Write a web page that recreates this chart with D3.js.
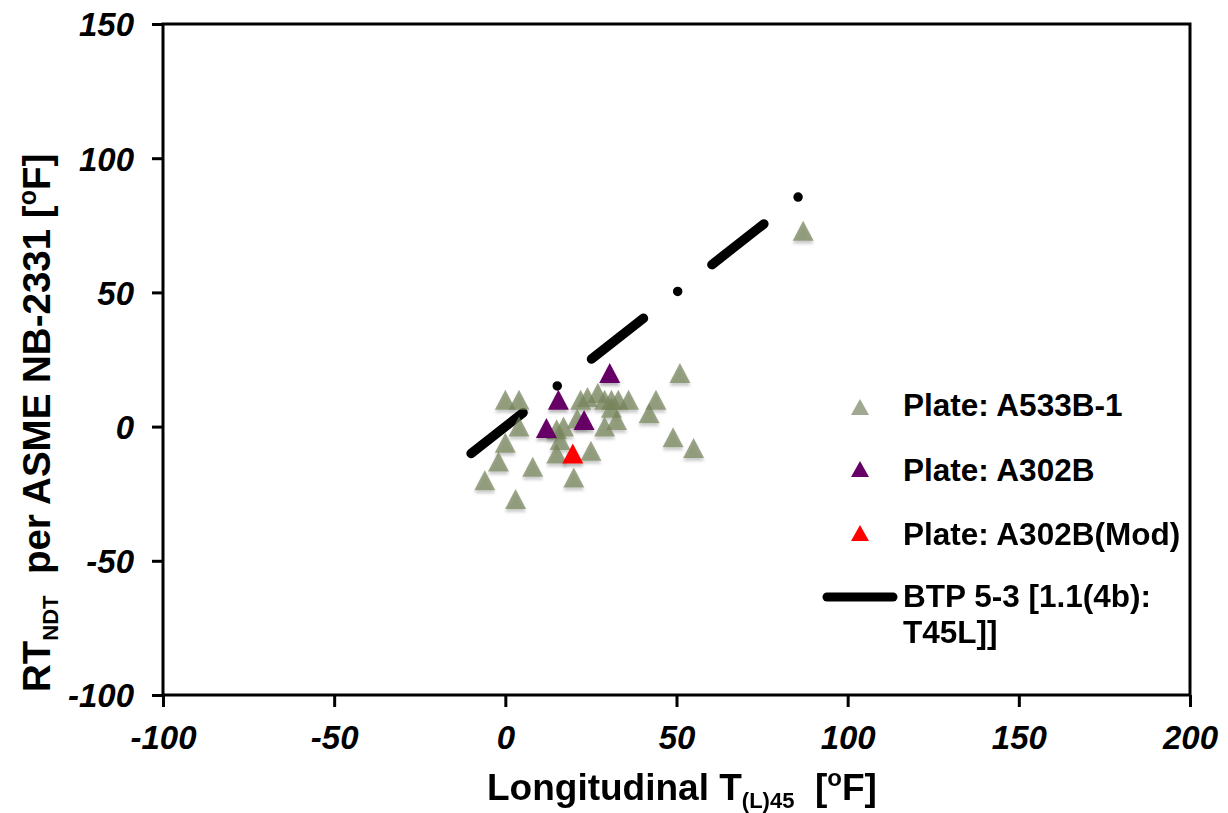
<!DOCTYPE html>
<html>
<head>
<meta charset="utf-8">
<script src="https://cdn.jsdelivr.net/npm/d3@7"></script>
<style>
  html, body { margin: 0; padding: 0; background: #fff; }
  svg { display: block; font-family: "Liberation Sans", Arial, sans-serif; }
  .title { white-space: pre; }
</style>
</head>
<body>
<svg id="chart" width="1228" height="813"></svg>
<script>
// Plate A533B-1 data
const a533X = [-6, -2, 0, 0, 3, 4, 4, 8, 15, 15, 16, 17, 20, 22, 24, 25, 27, 29, 29, 31, 31, 33, 32.5, 36, 42, 44, 21, 51, 49, 55, 87];
const a533Y = [-20, -13, -6, 10, -27, 10, 0, -15, -10, -1, -5, 0, -19, 10, 11, -9, 12.5, 10, 0, 10, 7, 10, 2.5, 10, 5, 10, 3, 20, -4, -8, 73];
// Plate A302B data
const a302X = [30.5, 15.5, 23, 12];
const a302Y = [20, 10, 2.5, -0.5];
// Plate A302B(Mod) data
const a302ModX = [19.7];
const a302ModY = [-10];
// BTP 5-3 line end points
const btpX = [-10, 86];
const btpY = [-10, 86];

const xTicks = [-100, -50, 0, 50, 100, 150, 200];
const yTicks = [-100, -50, 0, 50, 100, 150];

const svg = d3.select("#chart");
const plotLeft = 163, plotRight = 1190, plotTop = 24, plotBottom = 695;

const x = d3.scaleLinear().domain([-100, 200]).range([plotLeft, plotRight]);
const y = d3.scaleLinear().domain([-100, 150]).range([plotBottom, plotTop]);

// soft shadow under markers
const defs = svg.append("defs");
const f = defs.append("filter").attr("id", "shadow")
  .attr("x", "-50%").attr("y", "-50%").attr("width", "200%").attr("height", "200%");
f.append("feDropShadow").attr("dx", 0).attr("dy", 3).attr("stdDeviation", 1.8)
  .attr("flood-color", "#000").attr("flood-opacity", 0.28);

// triangle symbol centred on its bounding box
function triangle(w, h) {
  return {
    draw(ctx) {
      ctx.moveTo(0, -h / 2);
      ctx.lineTo(w / 2, h / 2);
      ctx.lineTo(-w / 2, h / 2);
      ctx.closePath();
    }
  };
}
const markerPath = d3.symbol().type(triangle(21, 20))();
const legendPath = d3.symbol().type(triangle(18, 16))();

// frame
svg.append("rect")
  .attr("x", plotLeft).attr("y", plotTop)
  .attr("width", plotRight - plotLeft).attr("height", plotBottom - plotTop)
  .attr("fill", "none").attr("stroke", "#000").attr("stroke-width", 3);

// axes (plain hyphen for negatives)
const fmt = d => String(d);
const xAxis = d3.axisBottom(x).tickValues(xTicks).tickSize(12).tickPadding(8).tickFormat(fmt);
const yAxis = d3.axisLeft(y).tickValues(yTicks).tickSize(11).tickPadding(14).tickFormat(fmt);

const gx = svg.append("g").attr("transform", `translate(0,${plotBottom})`).call(xAxis);
const gy = svg.append("g").attr("transform", `translate(${plotLeft},0)`).call(yAxis);
[gx, gy].forEach(g => {
  g.select(".domain").remove();
  g.selectAll(".tick line").attr("stroke", "#000").attr("stroke-width", 3);
  g.selectAll(".tick text")
    .attr("fill", "#000")
    .style("font-family", "'Liberation Sans', Arial, sans-serif")
    .style("font-size", "33px")
    .style("font-weight", "bold")
    .style("font-style", "italic");
});
gx.selectAll(".tick text").attr("dy", null).attr("y", 54);
gy.selectAll(".tick text").attr("dy", "0.36em").attr("x", -29);

// BTP 5-3 line (long dash – dot)
const line = d3.line().x(d => x(d[0])).y(d => y(d[1]));
svg.append("path")
  .datum(btpX.map((v, i) => [v, btpY[i]]))
  .attr("d", line)
  .attr("fill", "none")
  .attr("stroke", "#000")
  .attr("stroke-width", 9.5)
  .attr("stroke-linecap", "round")
  .attr("stroke-dasharray", "66,43.5,0,43.5");

// scatter series
function drawSeries(xs, ys, fill, opacity) {
  svg.append("g").attr("filter", "url(#shadow)")
    .selectAll("path")
    .data(xs.map((v, i) => [v, ys[i]]))
    .join("path")
    .attr("d", markerPath)
    .attr("transform", d => `translate(${x(d[0])},${y(d[1])})`)
    .attr("fill", fill)
    .attr("fill-opacity", opacity);
}
drawSeries(a533X, a533Y, "#76845b", 0.72);
drawSeries(a302X, a302Y, "#660066", 1);
drawSeries(a302ModX, a302ModY, "#ff0000", 1);

// legend
const legend = svg.append("g")
  .style("font-family", "'Liberation Sans', Arial, sans-serif")
  .style("font-size", "31.5px")
  .style("font-weight", "bold");
const legendItems = [
  { label: "Plate: A533B-1", fill: "#a0a88f", cy: 407, ty: 416 },
  { label: "Plate: A302B", fill: "#660066", cy: 469, ty: 481 },
  { label: "Plate: A302B(Mod)", fill: "#ff0000", cy: 533, ty: 545 }
];
legendItems.forEach(it => {
  legend.append("path").attr("d", legendPath)
    .attr("transform", `translate(860,${it.cy})`)
    .attr("fill", it.fill);
  legend.append("text").attr("x", 903).attr("y", it.ty).text(it.label);
});
legend.append("line")
  .attr("x1", 827).attr("x2", 893).attr("y1", 597).attr("y2", 597)
  .attr("stroke", "#000").attr("stroke-width", 9).attr("stroke-linecap", "round");
legend.append("text").attr("x", 903).attr("y", 607).text("BTP 5-3 [1.1(4b):");
legend.append("text").attr("x", 903).attr("y", 643).text("T45L]]");

// x axis title
const xt = svg.append("text").attr("class", "title")
  .attr("x", 487).attr("y", 800)
  .style("font-size", "37px").style("font-weight", "bold").attr("fill", "#000");
xt.append("tspan").text("Longitudinal T");
xt.append("tspan").attr("dy", 8).style("font-size", "22px").text("(L)45");
xt.append("tspan").attr("dy", -8).text("  [");
xt.append("tspan").attr("dy", -14).style("font-size", "24px").text("o");
xt.append("tspan").attr("dy", 14).text("F]");

// y axis title
const yt = svg.append("text").attr("class", "title")
  .attr("transform", "translate(50,692) rotate(-90)")
  .style("font-size", "38.5px").style("font-weight", "bold").attr("fill", "#000");
yt.append("tspan").text("RT");
yt.append("tspan").attr("dy", 8).style("font-size", "22px").text("NDT");
yt.append("tspan").attr("dy", -8).text("  per ASME NB-2331 [");
yt.append("tspan").attr("dy", -14).style("font-size", "25px").text("o");
yt.append("tspan").attr("dy", 14).text("F]");
</script>
</body>
</html>
